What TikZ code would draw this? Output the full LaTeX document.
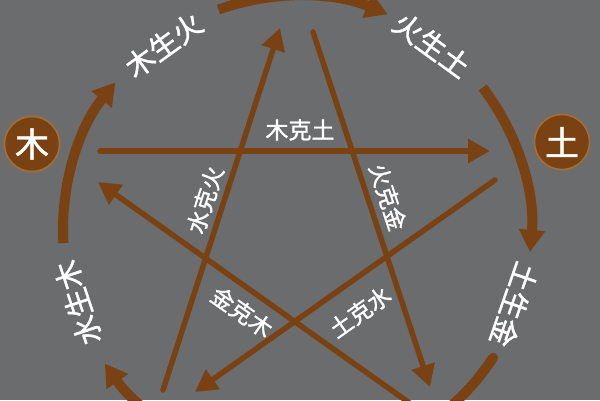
\documentclass[tikz,border=0pt]{standalone}
\usepackage{fontspec}
\newfontfamily\cjk[FakeBold=1.3]{Noto Sans CJK SC}
\usetikzlibrary{arrows.meta}
\definecolor{bg}{RGB}{107,108,110}
\definecolor{brn}{RGB}{122,66,18}
\definecolor{brnedge}{RGB}{168,108,52}
\tikzset{
  ringarrow/.style={draw=brn, line width=10pt, -{Triangle[width=25pt,length=22pt]}},
  ringline/.style={draw=brn, line width=10pt, line cap=round},
  keline/.style={draw=brn, line width=5.5pt, line cap=round, -{Triangle[width=23pt,length=22pt]}},
  ringlabel/.style={text=white, font=\cjk\fontsize{29}{29}\selectfont, inner sep=0pt},
  kelabel/.style={text=white, font=\cjk\fontsize{23}{23}\selectfont, inner sep=0pt},
  element/.style={circle, fill=brn, draw=brnedge, line width=1.5pt, minimum size=55pt, inner sep=0pt, text=white, font=\cjk\fontsize{34}{34}\selectfont}
}
\begin{document}
\begin{tikzpicture}[x=1pt,y=1pt]
\fill[bg] (0,0) rectangle (600,400);
\useasboundingbox (0,0) rectangle (600,400);
\clip (0,0) rectangle (600,400);
\coordinate (O) at (297,170);
% ring arrows (sheng cycle)
\draw[ringarrow] ([shift={(109.6:234pt)}]O) arc[start angle=109.6,end angle=67.2,radius=234pt];
\draw[ringarrow] ([shift={(37.5:234pt)}]O) arc[start angle=37.5,end angle=-5.4,radius=234pt];
\draw[ringline] ([shift={(-33.1:234pt)}]O) arc[start angle=-33.1,end angle=-70,radius=234pt];
\draw[ringarrow] ([shift={(250:234pt)}]O) arc[start angle=250,end angle=214.8,radius=234pt];
\draw[ringarrow] ([shift={(183.2:234pt)}]O) arc[start angle=183.2,end angle=140.9,radius=234pt];
% ring labels
\node[ringlabel, rotate=35.8] (l1) at ([shift={(125.8:228pt)}]O) {木生火};
\node[ringlabel, rotate=-36.1] (l2) at ([shift={(53.9:229pt)}]O) {火生土};
\node[ringlabel, rotate=-109] (l3) at ([shift={(-19:230pt)}]O) {土生金};
\node[ringlabel, rotate=108.4] (l4) at ([shift={(198.4:231pt)}]O) {水生木};
% elements
\node[element] (mu) at (32,256) {木};
\node[element] (tu) at (562,258) {土};
% ke lines (star)
\coordinate (m1) at (100,249); \coordinate (k1) at (490,249);
\coordinate (m2) at (313,368); \coordinate (k2) at (430,13);
\coordinate (m3) at (495,220); \coordinate (k3) at (195,8);
\coordinate (m4) at (425,-14); \coordinate (k4) at (98,218);
\coordinate (m5) at (163,10);  \coordinate (k5) at (280,372);
\draw[keline] (m1) -- (k1);
\draw[keline] (m2) -- (k2);
\draw[keline] (m3) -- (k3);
\draw[keline] (m4) -- (k4);
\draw[keline] (m5) -- (k5);
% ke labels
\node[kelabel] (t1) at (300,270) {木克土};
\node[kelabel, rotate=-71.8] (t2) at (388,203) {火克金};
\node[kelabel, rotate=35.2] (t3) at (360,88) {土克水};
\node[kelabel, rotate=-35] (t4) at (242,88) {金克木};
\node[kelabel, rotate=72.1] (t5) at (205,200) {水克火};
\end{tikzpicture}
\end{document}
